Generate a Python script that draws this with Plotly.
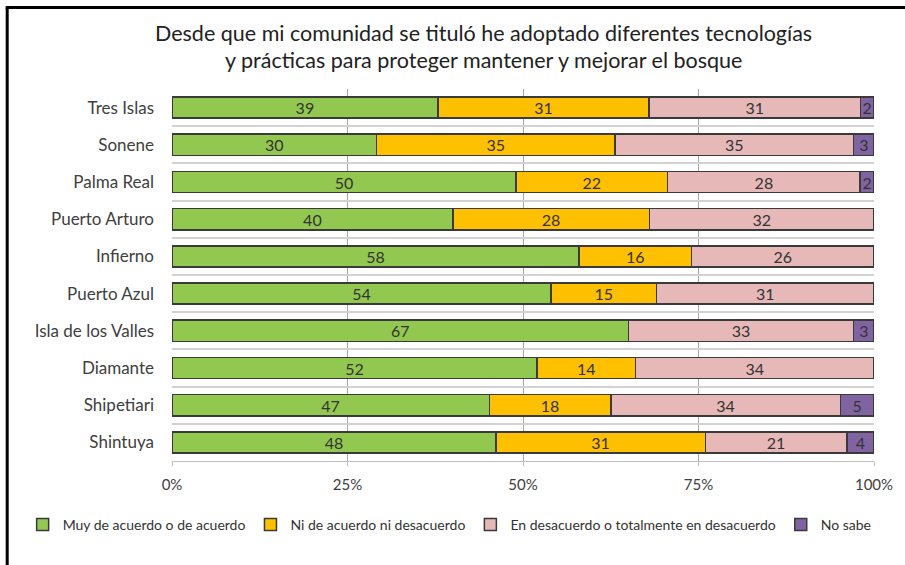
import plotly.graph_objects as go

communities = ["Tres Islas", "Sonene", "Palma Real", "Puerto Arturo", "Infierno",
               "Puerto Azul", "Isla de los Valles", "Diamante", "Shipetiari", "Shintuya"]
muy_de_acuerdo = [39, 30, 50, 40, 58, 54, 67, 52, 47, 48]
ni_de_acuerdo = [31, 35, 22, 28, 16, 15, 0, 14, 18, 31]
en_desacuerdo = [31, 35, 28, 32, 26, 31, 33, 34, 34, 21]
no_sabe = [2, 3, 2, 0, 0, 0, 3, 0, 5, 4]

series_names = ["Muy de acuerdo o de acuerdo", "Ni de acuerdo ni desacuerdo",
                "En desacuerdo o totalmente en desacuerdo", "No sabe"]
series_values = [muy_de_acuerdo, ni_de_acuerdo, en_desacuerdo, no_sabe]
colors = ["#92C850", "#FFC000", "#E6B9B8", "#8064A2"]
tick_vals = [0, 25, 50, 75, 100]
tick_text = ["0%", "25%", "50%", "75%", "100%"]
title_lines = ["Desde que mi comunidad se tituló he adoptado diferentes tecnologías",
               "y prácticas para proteger mantener y mejorar el bosque"]

W, H = 905, 565
L, R, T, B = 172, 28, 89, 104
pw, ph = W - L - R, H - T - B

def px_x(x):
    return (x - L) / pw

def px_y(y):
    return (H - B - y) / ph

fig = go.Figure()
for name, vals, col in zip(series_names, series_values, colors):
    fig.add_trace(go.Bar(
        y=communities,
        x=[v if v else None for v in vals],
        name=name,
        orientation="h",
        marker=dict(color=col, line=dict(color="#3a3a3a", width=1.5)),
        text=[str(v) if v else "" for v in vals],
        textposition="inside",
        insidetextanchor="middle",
        textangle=0,
        textfont=dict(family="Lato", size=16, color="#333333"),
        hoverinfo="name+x",
    ))

title_annotations = [
    dict(text=line, xref="paper", yref="paper", x=px_x(485), y=px_y(yc),
         xanchor="center", yanchor="middle", showarrow=False, align="center",
         font=dict(family="Lato", size=21.5, color="#222222"))
    for line, yc in zip(title_lines, [33, 60])
]

fig.update_layout(
    width=W, height=H,
    barmode="stack", barnorm="percent", bargap=0.43,
    margin=dict(l=L, r=R, t=T, b=B),
    paper_bgcolor="white", plot_bgcolor="white",
    uniformtext=dict(minsize=16, mode="show"),
    xaxis=dict(
        range=[0, 100], tickvals=tick_vals, ticktext=tick_text,
        showgrid=True, gridcolor="#A6A6A6", gridwidth=1,
        zeroline=False, showline=True, linecolor="#BFBFBF", linewidth=1,
        ticks="outside", ticklen=4, tickcolor="#BFBFBF",
        ticklabelstandoff=6,
        tickfont=dict(family="Lato", size=15, color="#404040"),
        fixedrange=True,
    ),
    yaxis=dict(
        categoryorder="array", categoryarray=communities, autorange="reversed",
        tickson="boundaries", showgrid=True, gridcolor="#D2D2D2", gridwidth=2,
        ticks="", showline=False, ticklabelstandoff=17,
        tickfont=dict(family="Lato", size=17, color="#404040"),
    ),
    legend=dict(
        orientation="h", x=px_x(22), xanchor="left", y=px_y(525), yanchor="middle",
        font=dict(family="Lato", size=14, color="#333333"),
        itemwidth=30, traceorder="normal", tracegroupgap=0,
    ),
    showlegend=True,
    annotations=title_annotations,
    shapes=[
        dict(type="line", xref="paper", yref="paper", x0=px_x(6.5), x1=px_x(6.5),
             y0=px_y(7.5), y1=px_y(575), line=dict(color="black", width=3)),
        dict(type="line", xref="paper", yref="paper", x0=px_x(5), x1=px_x(910),
             y0=px_y(7.5), y1=px_y(7.5), line=dict(color="black", width=3)),
    ],
)

fig.write_html("out.html")
